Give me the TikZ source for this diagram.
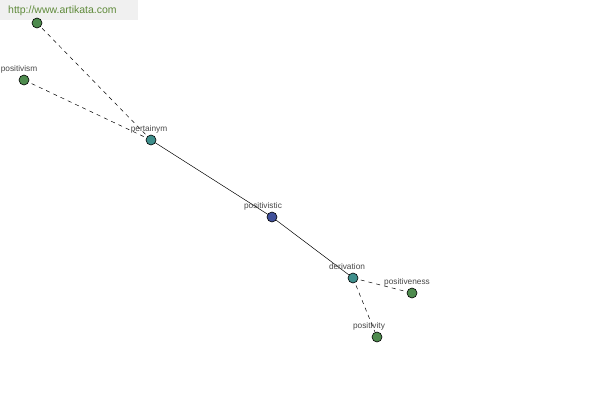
\documentclass[tikz,border=0pt]{standalone}
\usepackage{fontspec}
\setmainfont{Liberation Sans}
\definecolor{ngreen}{HTML}{4E8B4E}
\definecolor{nteal}{HTML}{3F8F8C}
\definecolor{nblue}{HTML}{40509A}
\definecolor{wmgreen}{HTML}{5F8A3A}
\definecolor{labgray}{HTML}{484848}
\begin{document}
\begin{tikzpicture}[x=1pt,y=-1pt,
  dot/.style={circle,draw=black,line width=0.6pt,minimum size=10pt,inner sep=0pt},
  lab/.style={font=\fontsize{8.3}{9}\selectfont,text=labgray,inner sep=0pt},
  rel/.style={draw=black,line width=0.5pt},
  reldash/.style={rel,dash pattern=on 4pt off 4pt}]
\useasboundingbox[fill=white] (0,0) rectangle (600,400);
\fill[gray!12] (0,0) rectangle (138,20);
\node[anchor=west,font=\fontsize{10.5}{12}\selectfont,text=wmgreen,inner sep=0pt] (wm) at (8,11) {http://www.artikata.com};
% node coordinates
\coordinate (ctop) at (37,23);
\coordinate (cpositivism) at (24,80);
\coordinate (cpert) at (151,140);
\coordinate (cpos) at (272,217);
\coordinate (cder) at (353,278);
\coordinate (cposn) at (412,293);
\coordinate (cposy) at (377,337);
% edges
\draw[reldash] (cpert) -- (ctop);
\draw[reldash] (cpert) -- (cpositivism);
\draw[rel] (cpert) -- (cpos);
\draw[rel] (cpos) -- (cder);
\draw[reldash] (cder) -- (cposn);
\draw[reldash] (cder) -- (cposy);
% nodes
\node[dot,fill=ngreen] (top) at (ctop) {};
\node[dot,fill=ngreen] (positivism) at (cpositivism) {};
\node[dot,fill=nteal] (pert) at (cpert) {};
\node[dot,fill=nblue] (pos) at (cpos) {};
\node[dot,fill=nteal] (der) at (cder) {};
\node[dot,fill=ngreen] (posn) at (cposn) {};
\node[dot,fill=ngreen] (posy) at (cposy) {};
% labels
\node[lab] (lpositivism) at (19,69) {positivism};
\node[lab] (lpert) at (149,129) {pertainym};
\node[lab] (lpos) at (263,206) {positivistic};
\node[lab] (lder) at (347,267) {derivation};
\node[lab] (lposn) at (407,282) {positiveness};
\node[lab] (lposy) at (369,326) {positivity};
\end{tikzpicture}
\end{document}
